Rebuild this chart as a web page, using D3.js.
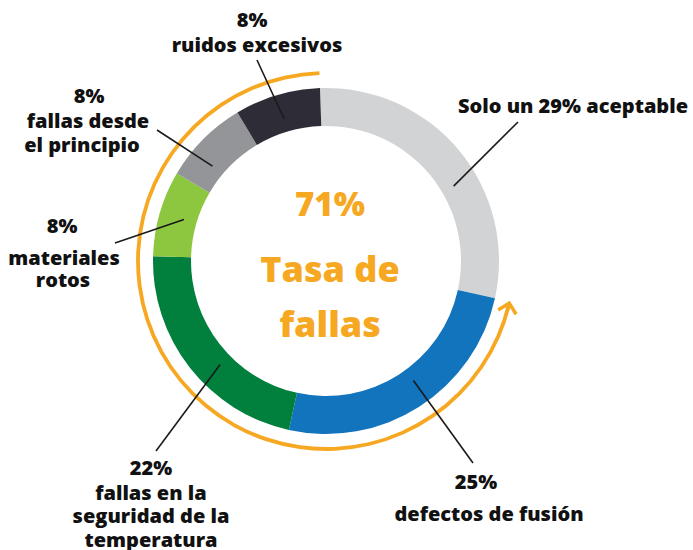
<!DOCTYPE html>
<html>
<head>
<meta charset="utf-8">
<script src="https://cdn.jsdelivr.net/npm/d3@7"></script>
<style>
  body { margin: 0; background: #fff; }
  svg text { font-family: "Open Sans", "DejaVu Sans", sans-serif; font-weight: 800; }
</style>
</head>
<body>
<svg id="chart" width="693" height="550"></svg>
<script>
// data
var categories = ["aceptable", "defectos de fusión", "fallas en la seguridad de la temperatura",
                  "materiales rotos", "fallas desde el principio", "ruidos excesivos"];
var shares = [29, 25, 22, 8, 8, 8];
var colors = ["#d1d3d4", "#1174bc", "#007f3d", "#8dc63f", "#939598", "#2e2c37"];
var failRate = 71;
var centerLines = ["71%", "Tasa de", "fallas"];
var labelLines = [
    ["Solo un 29% aceptable"],
    ["25%", "defectos de fusión"],
    ["22%", "fallas en la", "seguridad de la", "temperatura"],
    ["8%", "materiales", "rotos"],
    ["8%", "fallas desde", "el principio"],
    ["8%", "ruidos excesivos"]
];

var cx = 326, cy = 261,
    outerR = 173, innerR = 135,
    ringR = 188, ringW = 3.8,
    offset = -2 * Math.PI / 180,
    orange = "#f7a823";

// label layout: t = where along the slice the leader starts, end = leader end, lines = [x, baseline]
var labelLayout = [
    {t: 0.59, end: [518, 122], lines: [[573, 113]]},
    {t: 0.46, end: [473, 463], lines: [[476, 489], [489, 521]]},
    {t: 0.42, end: [156, 451], lines: [[151, 475], [151, 500], [151, 523], [151, 547]]},
    {t: 0.51, end: [115, 243], lines: [[62, 233], [64, 265], [63, 287]]},
    {t: 0.33, end: [157, 130], lines: [[89, 103], [88, 128], [82, 152]]},
    {t: 0.50, end: [257, 60], lines: [[252, 27], [257, 52]]}
];

var svg = d3.select("#chart");
var g = svg.append("g").attr("transform", "translate(" + cx + "," + cy + ")");

var pie = d3.pie().sort(null)
    .startAngle(offset).endAngle(2 * Math.PI + offset);
var arcs = pie(shares);

var arc = d3.arc().innerRadius(innerR).outerRadius(outerR);

g.selectAll("path.slice")
    .data(arcs)
    .enter().append("path")
    .attr("class", "slice")
    .attr("d", arc)
    .attr("fill", function(d, i){ return colors[i]; });

// orange ring marking the failure share
var failStart = 2 * Math.PI + offset - failRate / 100 * 2 * Math.PI + 0.01;
var ring = d3.arc().innerRadius(ringR - ringW / 2).outerRadius(ringR + ringW / 2)
    .startAngle(failStart).endAngle(2 * Math.PI + offset);
g.append("path").attr("d", ring()).attr("fill", orange);

// arrow head at the start of the ring, pointing counter-clockwise
var tip = [ringR * Math.sin(failStart), -ringR * Math.cos(failStart)],
    armLen = 13, armAng = 45 * Math.PI / 180;
var bx = Math.cos(failStart), by = Math.sin(failStart);
function rot(x, y, t){ return [x * Math.cos(t) - y * Math.sin(t), x * Math.sin(t) + y * Math.cos(t)]; }
var arm1 = rot(bx, by, armAng), arm2 = rot(bx, by, -armAng);
g.append("path")
    .attr("d", "M" + (tip[0] + arm1[0] * armLen) + "," + (tip[1] + arm1[1] * armLen) +
               "L" + tip[0] + "," + tip[1] +
               "L" + (tip[0] + arm2[0] * armLen) + "," + (tip[1] + arm2[1] * armLen))
    .attr("fill", "none")
    .attr("stroke", orange)
    .attr("stroke-width", 3.5);

// leader lines
var leaderR = 148;
function leaderAngle(d, i){ return d.startAngle + (d.endAngle - d.startAngle) * labelLayout[i].t; }
g.selectAll("line.leader")
    .data(arcs)
    .enter().append("line")
    .attr("class", "leader")
    .attr("x1", function(d, i){ return leaderR * Math.sin(leaderAngle(d, i)); })
    .attr("y1", function(d, i){ return -leaderR * Math.cos(leaderAngle(d, i)); })
    .attr("x2", function(d, i){ return labelLayout[i].end[0] - cx; })
    .attr("y2", function(d, i){ return labelLayout[i].end[1] - cy; })
    .attr("stroke", "#1a1a1a")
    .attr("stroke-width", 1.6);

// labels
labelLines.forEach(function(lines, i){
    lines.forEach(function(txt, j){
        svg.append("text")
            .attr("x", labelLayout[i].lines[j][0])
            .attr("y", labelLayout[i].lines[j][1])
            .attr("text-anchor", "middle")
            .attr("font-size", 20)
            .attr("fill", "#111")
            .text(txt);
    });
});

// centre text
var centerY = [216, 282, 337];
centerLines.forEach(function(txt, j){
    svg.append("text")
        .attr("x", 330)
        .attr("y", centerY[j])
        .attr("text-anchor", "middle")
        .attr("font-size", j === 0 ? 33 : 36)
        .attr("fill", orange)
        .text(txt);
});
</script>
</body>
</html>
